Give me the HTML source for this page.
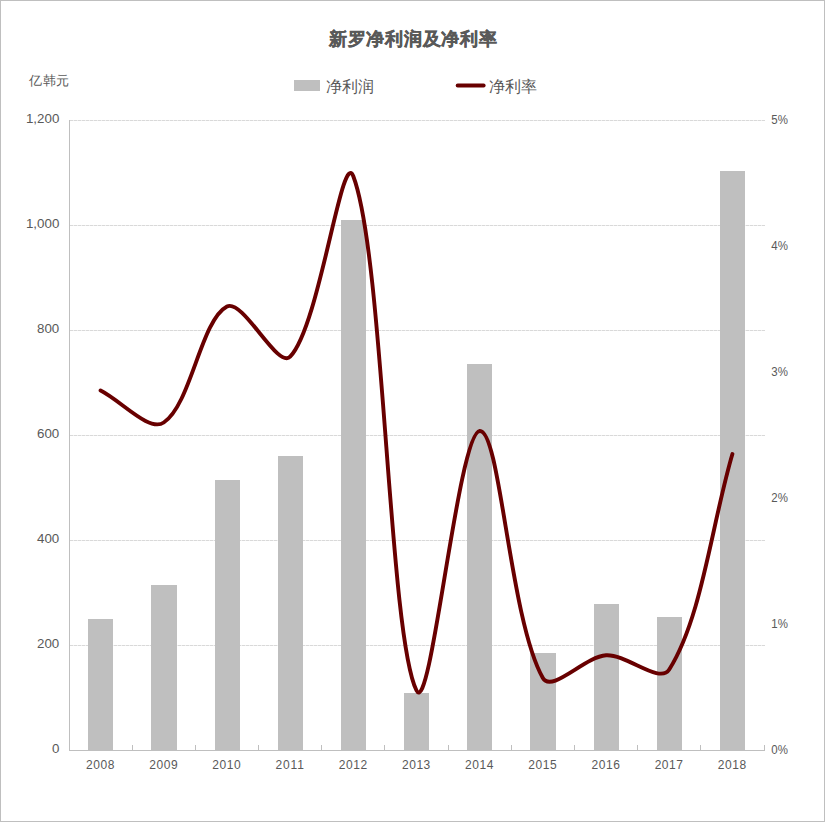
<!DOCTYPE html>
<html><head><meta charset="utf-8"><title>新罗净利润及净利率</title>
<style>
html,body{margin:0;padding:0;background:#fff;}
body{width:825px;height:822px;overflow:hidden;position:relative;font-family:"Liberation Sans",sans-serif;}
#frame{position:absolute;left:0;top:0;width:823px;height:820px;border:1px solid #bfbfbf;background:#fff;}
svg{position:absolute;left:0;top:0;}
text{font-family:"Liberation Sans",sans-serif;fill:#595959;}
.ax{font-size:13.33px;}
.ax2{font-size:12.5px;}
.ax3{font-size:12px;}
.title{font-size:18px;font-weight:bold;letter-spacing:0.72px;stroke:#595959;stroke-width:0.35px;}
.unit{font-size:13.33px;letter-spacing:0.6px;}
.leg{font-size:16px;}
</style></head>
<body><div id="frame"></div>
<svg width="825" height="822" viewBox="0 0 825 822">
<line x1="70" y1="645.5" x2="765" y2="645.5" stroke="#efefef" stroke-width="1"/>
<line x1="70" y1="645.5" x2="765" y2="645.5" stroke="#d9d9d9" stroke-width="1" stroke-dasharray="3,1"/>
<line x1="70" y1="540.5" x2="765" y2="540.5" stroke="#efefef" stroke-width="1"/>
<line x1="70" y1="540.5" x2="765" y2="540.5" stroke="#d9d9d9" stroke-width="1" stroke-dasharray="3,1"/>
<line x1="70" y1="435.5" x2="765" y2="435.5" stroke="#efefef" stroke-width="1"/>
<line x1="70" y1="435.5" x2="765" y2="435.5" stroke="#d9d9d9" stroke-width="1" stroke-dasharray="3,1"/>
<line x1="70" y1="330.5" x2="765" y2="330.5" stroke="#efefef" stroke-width="1"/>
<line x1="70" y1="330.5" x2="765" y2="330.5" stroke="#d9d9d9" stroke-width="1" stroke-dasharray="3,1"/>
<line x1="70" y1="225.5" x2="765" y2="225.5" stroke="#efefef" stroke-width="1"/>
<line x1="70" y1="225.5" x2="765" y2="225.5" stroke="#d9d9d9" stroke-width="1" stroke-dasharray="3,1"/>
<line x1="70" y1="120.5" x2="765" y2="120.5" stroke="#efefef" stroke-width="1"/>
<line x1="70" y1="120.5" x2="765" y2="120.5" stroke="#d9d9d9" stroke-width="1" stroke-dasharray="3,1"/>
<rect x="88" y="619" width="25" height="131" fill="#bfbfbf"/>
<rect x="151" y="585" width="26" height="165" fill="#bfbfbf"/>
<rect x="215" y="480" width="25" height="270" fill="#bfbfbf"/>
<rect x="278" y="456" width="25" height="294" fill="#bfbfbf"/>
<rect x="341" y="220" width="25" height="530" fill="#bfbfbf"/>
<rect x="404" y="693" width="25" height="57" fill="#bfbfbf"/>
<rect x="467" y="364" width="25" height="386" fill="#bfbfbf"/>
<rect x="530" y="653" width="26" height="97" fill="#bfbfbf"/>
<rect x="594" y="604" width="25" height="146" fill="#bfbfbf"/>
<rect x="657" y="617" width="25" height="133" fill="#bfbfbf"/>
<rect x="720" y="171" width="25" height="579" fill="#bfbfbf"/>
<line x1="69.5" y1="120" x2="69.5" y2="751" stroke="#bfbfbf" stroke-width="1"/>
<line x1="69" y1="750.5" x2="765" y2="750.5" stroke="#bfbfbf" stroke-width="1"/>
<line x1="132.5" y1="745" x2="132.5" y2="750" stroke="#bfbfbf" stroke-width="1"/>
<line x1="195.5" y1="745" x2="195.5" y2="750" stroke="#bfbfbf" stroke-width="1"/>
<line x1="258.5" y1="745" x2="258.5" y2="750" stroke="#bfbfbf" stroke-width="1"/>
<line x1="321.5" y1="745" x2="321.5" y2="750" stroke="#bfbfbf" stroke-width="1"/>
<line x1="384.5" y1="745" x2="384.5" y2="750" stroke="#bfbfbf" stroke-width="1"/>
<line x1="448.5" y1="745" x2="448.5" y2="750" stroke="#bfbfbf" stroke-width="1"/>
<line x1="511.5" y1="745" x2="511.5" y2="750" stroke="#bfbfbf" stroke-width="1"/>
<line x1="574.5" y1="745" x2="574.5" y2="750" stroke="#bfbfbf" stroke-width="1"/>
<line x1="637.5" y1="745" x2="637.5" y2="750" stroke="#bfbfbf" stroke-width="1"/>
<line x1="700.5" y1="745" x2="700.5" y2="750" stroke="#bfbfbf" stroke-width="1"/>
<line x1="764.5" y1="745" x2="764.5" y2="750" stroke="#bfbfbf" stroke-width="1"/>
<path d="M100.59,390.50 C121.65,401.17 149.07,432.27 163.77,422.50 C191.19,404.27 200.81,320.12 226.95,306.50 C242.93,298.18 277.63,369.58 290.14,356.70 C319.75,326.18 341.97,146.31 353.32,176.30 C384.09,257.58 388.71,634.48 416.50,690.50 C430.83,719.38 458.13,433.13 479.68,431.00 C500.25,428.97 509.52,618.82 542.86,678.00 C551.64,693.58 584.61,656.74 606.05,655.30 C626.73,653.91 659.80,684.52 669.23,669.50 C701.92,617.42 711.35,525.83 732.41,454.00" fill="none" stroke="#680000" stroke-width="3.9" stroke-linecap="round" stroke-linejoin="round"/>
<text x="59.3" y="753.3" text-anchor="end" class="ax">0</text>
<text x="59.3" y="648.3" text-anchor="end" class="ax">200</text>
<text x="59.3" y="543.3" text-anchor="end" class="ax">400</text>
<text x="59.3" y="438.3" text-anchor="end" class="ax">600</text>
<text x="59.3" y="333.3" text-anchor="end" class="ax">800</text>
<text x="59.3" y="228.3" text-anchor="end" class="ax">1,000</text>
<text x="59.3" y="123.3" text-anchor="end" class="ax">1,200</text>
<text x="771.3" y="754.4" class="ax2" textLength="16.6" lengthAdjust="spacingAndGlyphs">0%</text>
<text x="771.3" y="628.4" class="ax2" textLength="16.6" lengthAdjust="spacingAndGlyphs">1%</text>
<text x="771.3" y="502.4" class="ax2" textLength="16.6" lengthAdjust="spacingAndGlyphs">2%</text>
<text x="771.3" y="376.4" class="ax2" textLength="16.6" lengthAdjust="spacingAndGlyphs">3%</text>
<text x="771.3" y="250.4" class="ax2" textLength="16.6" lengthAdjust="spacingAndGlyphs">4%</text>
<text x="771.3" y="124.4" class="ax2" textLength="16.6" lengthAdjust="spacingAndGlyphs">5%</text>
<text x="100.19" y="768.5" text-anchor="middle" class="ax3" textLength="28.4" lengthAdjust="spacing">2008</text>
<text x="163.37" y="768.5" text-anchor="middle" class="ax3" textLength="28.4" lengthAdjust="spacing">2009</text>
<text x="226.55" y="768.5" text-anchor="middle" class="ax3" textLength="28.4" lengthAdjust="spacing">2010</text>
<text x="289.74" y="768.5" text-anchor="middle" class="ax3" textLength="28.4" lengthAdjust="spacing">2011</text>
<text x="352.92" y="768.5" text-anchor="middle" class="ax3" textLength="28.4" lengthAdjust="spacing">2012</text>
<text x="416.10" y="768.5" text-anchor="middle" class="ax3" textLength="28.4" lengthAdjust="spacing">2013</text>
<text x="479.28" y="768.5" text-anchor="middle" class="ax3" textLength="28.4" lengthAdjust="spacing">2014</text>
<text x="542.46" y="768.5" text-anchor="middle" class="ax3" textLength="28.4" lengthAdjust="spacing">2015</text>
<text x="605.65" y="768.5" text-anchor="middle" class="ax3" textLength="28.4" lengthAdjust="spacing">2016</text>
<text x="668.83" y="768.5" text-anchor="middle" class="ax3" textLength="28.4" lengthAdjust="spacing">2017</text>
<text x="732.01" y="768.5" text-anchor="middle" class="ax3" textLength="28.4" lengthAdjust="spacing">2018</text>
<text x="329" y="45.2" class="title">新罗净利润及净利率</text>
<text x="29" y="85" class="unit">亿韩元</text>
<rect x="294" y="80" width="26" height="11" fill="#bfbfbf"/>
<text x="326" y="92" class="leg">净利润</text>
<line x1="457.7" y1="85.6" x2="483.6" y2="85.6" stroke="#680000" stroke-width="4" stroke-linecap="round"/>
<text x="489.2" y="92" class="leg">净利率</text>
</svg>
</body></html>
